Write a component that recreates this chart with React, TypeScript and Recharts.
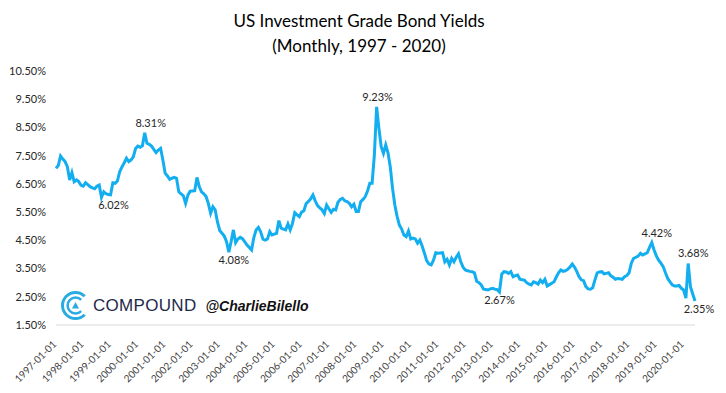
import React from 'react';
import { LineChart, Line, XAxis, YAxis } from 'recharts';

if (typeof document !== 'undefined') document.body.style.margin = '0';

// monthly yields (%), one array per calendar year
const y1997 = [7.05, 7.15, 7.49, 7.38, 7.29, 7.11, 6.64, 6.90, 6.58, 6.64, 6.58, 6.45];
const y1998 = [6.42, 6.54, 6.47, 6.40, 6.36, 6.33, 6.42, 6.46, 6.02, 6.22, 6.15, 6.12];
const y1999 = [6.11, 6.54, 6.52, 6.60, 6.93, 7.10, 7.25, 7.41, 7.29, 7.35, 7.46, 7.75];
const y2000 = [7.84, 7.80, 7.85, 8.31, 7.94, 7.90, 7.84, 7.72, 7.61, 7.70, 7.76, 7.35];
const y2001 = [6.88, 6.78, 6.66, 6.70, 6.73, 6.70, 6.22, 6.15, 6.08, 5.81, 6.10, 6.24];
const y2002 = [6.25, 6.26, 6.73, 6.40, 6.22, 6.15, 6.05, 5.80, 5.46, 5.69, 5.58, 5.15];
const y2003 = [4.85, 4.75, 4.65, 4.45, 4.08, 4.45, 4.87, 4.42, 4.55, 4.61, 4.56, 4.45];
const y2004 = [4.33, 4.25, 4.16, 4.60, 4.87, 4.96, 4.80, 4.54, 4.51, 4.55, 4.81, 4.69];
const y2005 = [4.72, 4.75, 5.20, 4.93, 4.90, 4.87, 5.08, 4.87, 5.10, 5.48, 5.40, 5.34];
const y2006 = [5.50, 5.55, 5.80, 5.88, 5.97, 6.11, 5.90, 5.73, 5.65, 5.58, 5.45, 5.75];
const y2007 = [5.62, 5.49, 5.60, 5.58, 5.85, 5.95, 5.99, 5.90, 5.87, 5.81, 5.69, 5.78];
const y2008 = [5.52, 5.52, 5.87, 5.95, 6.05, 6.25, 6.52, 6.52, 7.52, 9.23, 8.47, 7.82];
const y2009 = [7.58, 7.88, 7.60, 7.10, 6.34, 5.75, 5.35, 5.04, 4.90, 4.69, 4.63, 4.83];
const y2010 = [4.55, 4.58, 4.55, 4.40, 4.51, 4.30, 4.05, 3.78, 3.66, 3.63, 3.80, 4.06];
const y2011 = [4.04, 4.05, 4.06, 3.74, 3.83, 3.63, 3.86, 3.74, 3.90, 4.02, 3.74, 3.55];
const y2012 = [3.45, 3.42, 3.40, 3.39, 3.35, 3.05, 3.00, 2.92, 2.77, 2.76, 2.74, 2.78];
const y2013 = [2.80, 2.77, 2.75, 2.67, 3.30, 3.39, 3.38, 3.33, 3.39, 3.21, 3.25, 3.27];
const y2014 = [3.12, 3.10, 3.09, 3.00, 2.95, 2.92, 3.03, 3.00, 2.95, 3.09, 3.00, 3.12];
const y2015 = [2.88, 2.93, 2.98, 3.03, 3.20, 3.35, 3.45, 3.40, 3.42, 3.47, 3.55, 3.66];
const y2016 = [3.55, 3.40, 3.21, 3.10, 3.07, 2.86, 2.78, 2.77, 2.82, 3.10, 3.35, 3.38];
const y2017 = [3.39, 3.31, 3.33, 3.35, 3.24, 3.19, 3.12, 3.15, 3.14, 3.12, 3.21, 3.25];
const y2018 = [3.35, 3.69, 3.86, 3.90, 3.94, 4.04, 3.98, 4.02, 4.06, 4.25, 4.42, 4.16];
const y2019 = [3.95, 3.80, 3.69, 3.57, 3.35, 3.15, 3.03, 2.92, 2.88, 2.88, 2.90, 2.80];
const y2020 = [2.74, 2.45, 3.68, 2.86, 2.60, 2.35];

const years = [1997, 1998, 1999, 2000, 2001, 2002, 2003, 2004, 2005, 2006, 2007, 2008,
  2009, 2010, 2011, 2012, 2013, 2014, 2015, 2016, 2017, 2018, 2019, 2020];
const yearly = [y1997, y1998, y1999, y2000, y2001, y2002, y2003, y2004, y2005, y2006, y2007, y2008,
  y2009, y2010, y2011, y2012, y2013, y2014, y2015, y2016, y2017, y2018, y2019, y2020];

const yTicks = [1.5, 2.5, 3.5, 4.5, 5.5, 6.5, 7.5, 8.5, 9.5, 10.5];

// labelled highs and lows
const notes = [
  { date: '1998-09-01', side: 'below', dx: 12 },
  { date: '2000-04-01', side: 'above', dx: 6 },
  { date: '2003-05-01', side: 'below', dx: 5 },
  { date: '2008-10-01', side: 'above', dx: 1 },
  { date: '2013-04-01', side: 'below', dx: 0 },
  { date: '2018-11-01', side: 'above', dx: 5 },
  { date: '2020-03-01', side: 'above', dx: 5 },
  { date: '2020-06-01', side: 'below', dx: 4 },
];

const data: any[] = [];
yearly.forEach((vals, yi) => {
  vals.forEach((v, m) => {
    const date = `${years[yi]}-${String(m + 1).padStart(2, '0')}-01`;
    data.push({ i: data.length, date, value: v, note: notes.find(n => n.date === date) });
  });
});
const janTicks = data.filter(d => d.date.endsWith('-01-01')).map(d => d.i);

const FONT = 'Lato, "Open Sans", sans-serif';

const XTick = ({ x, y, payload }: any) => (
  <g transform={`translate(${x + 1},${y + 12})`}>
    <text x={0} y={0} textAnchor="end" transform="rotate(-45)" fontSize={10} fill="#404040" fontFamily={FONT}>
      {data[payload.value]?.date}
    </text>
  </g>
);

const NoteDot = (props: any) => {
  const { cx, cy, payload, index } = props;
  const n = payload.note;
  if (!n) return <g key={index} />;
  return (
    <text key={index} x={cx + n.dx} y={n.side === 'above' ? cy - 6 : cy + 3} textAnchor="middle"
      dominantBaseline={n.side === 'above' ? 'auto' : 'hanging'} fontSize={11} fill="#262626" fontFamily={FONT}>
      {`${payload.value.toFixed(2)}%`}
    </text>
  );
};

const Logo = () => (
  <div style={{ position: 'absolute', left: 60, top: 290, display: 'flex', alignItems: 'center' }}>
    <svg width={31} height={31}>
      <path d="M 24.7 6.3 A 13 13 0 1 0 24.7 24.7" fill="none" stroke="#29abe2" strokeWidth={3} />
      <path d="M 21.2 9.8 A 8 8 0 1 0 21.2 21.2" fill="none" stroke="#29abe2" strokeWidth={2.5} />
      <path d="M 15.5 12 L 19 18.5 L 12 18.5 Z" fill="#29abe2" />
    </svg>
    <span style={{ marginLeft: 2, fontFamily: '"Liberation Sans", sans-serif', fontSize: 17, color: '#1d2a4a', letterSpacing: 0.3 }}>
      COMPOUND
    </span>
    <span style={{ marginLeft: 9, fontFamily: '"Liberation Sans", sans-serif', fontSize: 14, fontWeight: 'bold', fontStyle: 'italic', color: '#111' }}>
      @CharlieBilello
    </span>
  </div>
);

export default function App() {
  return (
    <div style={{ position: 'relative', width: 726, height: 393, background: '#fff', fontFamily: FONT }}>
      <div style={{ position: 'absolute', left: 0, width: 718, top: 8, textAlign: 'center', fontSize: 17, lineHeight: '25px', color: '#000' }}>
        US Investment Grade Bond Yields
        <br />
        (Monthly, 1997 - 2020)
      </div>
      <LineChart width={726} height={393} data={data} margin={{ top: 71, right: 31, bottom: 0, left: 0 }}>
        <XAxis
          dataKey="i"
          type="number"
          domain={[0, data.length - 1]}
          ticks={janTicks}
          interval={0}
          tick={<XTick />}
          tickLine={false}
          axisLine={{ stroke: '#d9d9d9' }}
          height={68}
        />
        <YAxis
          domain={[1.5, 10.5]}
          ticks={yTicks}
          interval={0}
          width={56}
          tickLine={false}
          axisLine={false}
          tickMargin={4}
          tick={{ fontSize: 11, fill: '#262626', fontFamily: FONT }}
          tickFormatter={(v: number) => `${v.toFixed(2)}%`}
        />
        <Line
          type="linear"
          dataKey="value"
          stroke="#13aeef"
          strokeWidth={3}
          dot={NoteDot}
          activeDot={false}
          isAnimationActive={false}
        />
      </LineChart>
      <Logo />
    </div>
  );
}
